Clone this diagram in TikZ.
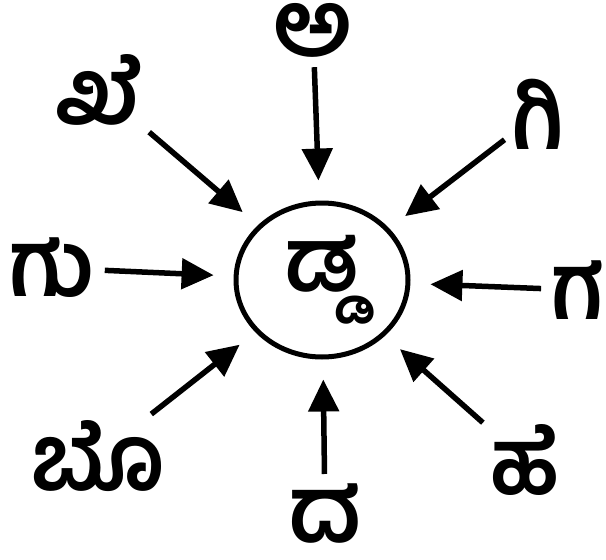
\documentclass[tikz,border=0pt]{standalone}
\usepackage{fontspec}
\newfontfamily\kannada[Script=Kannada]{Hind Mysuru}
\usetikzlibrary{shapes, arrows.meta, positioning, calc}

\begin{document}
\begin{tikzpicture}[
    x=1pt, y=-1pt,
    letter/.style={font=\kannada\bfseries\fontsize{92}{100}\selectfont, inner sep=0pt},
    middle/.style={ellipse, draw, line width=5pt, minimum width=172pt, minimum height=154pt, font=\kannada\bfseries\fontsize{88}{100}\selectfont},
    arr/.style={-{Triangle[length=32pt, width=30pt]}, line width=5.5pt, shorten <=10pt, shorten >=20pt}
]
\useasboundingbox (0,0) rectangle (606,560);

% Centre
\node[middle] (dda) at (322,280) {ಡ್ಡ};

% Letters round it
\node[letter] (a) at (313,30) {ಅ};
\node[letter] (khe) at (100,90) {ಖೆ};
\node[letter] (gi) at (538,114) {ಗಿ};
\node[letter] (gu) at (52,268) {ಗು};
\node[letter] (ga) at (578,290) {ಗ};
\node[letter] (bo) at (98,456) {ಬೊ};
\node[letter] (he) at (525,460) {ಹೆ};
\node[letter] (da) at (325,514) {ದ};

% Arrows
\draw[arr] (a) -- (dda);
\draw[arr] (khe) -- (dda);
\draw[arr] (gi) -- (dda);
\draw[arr] (gu) -- (dda);
\draw[arr] (ga) -- (dda);
\draw[arr] (bo) -- (dda);
\draw[arr] (he) -- (dda);
\draw[arr] (da) -- (dda);

\end{tikzpicture}
\end{document}
